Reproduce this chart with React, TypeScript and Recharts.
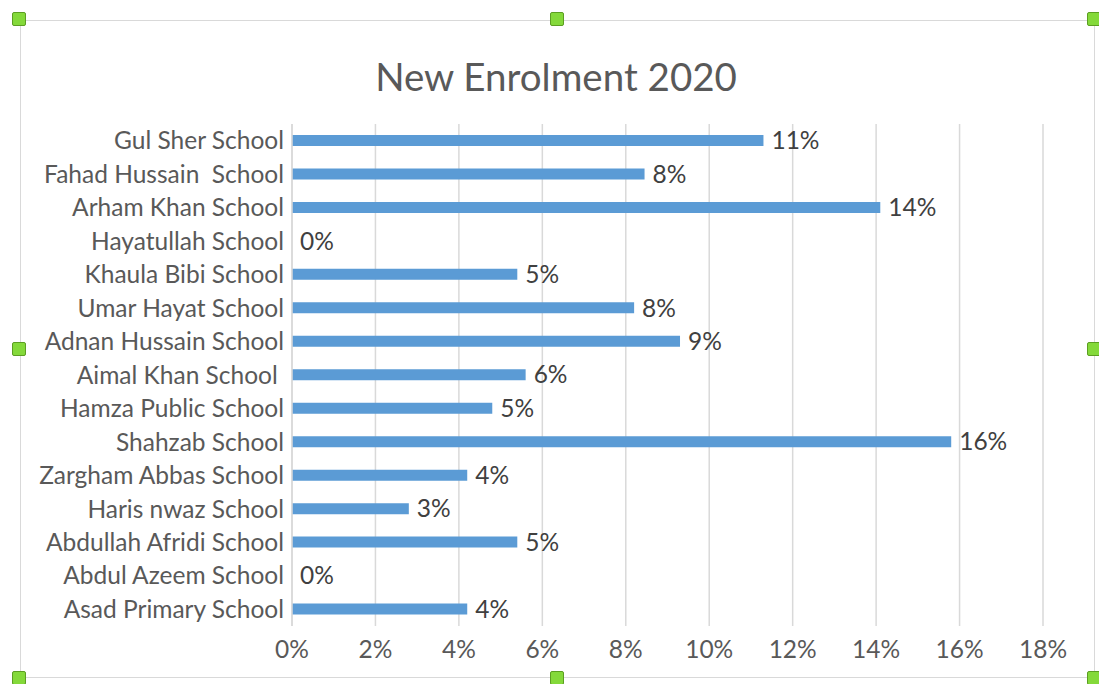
import React from 'react';
import { BarChart, Bar, XAxis, YAxis, CartesianGrid, LabelList } from 'recharts';

// Schools top to bottom, as in the reference
const schools = [
  'Gul Sher School',
  'Fahad Hussain  School',
  'Arham Khan School',
  'Hayatullah School',
  'Khaula Bibi School',
  'Umar Hayat School',
  'Adnan Hussain School',
  'Aimal Khan School ',
  'Hamza Public School',
  'Shahzab School',
  'Zargham Abbas School',
  'Haris nwaz School',
  'Abdullah Afridi School',
  'Abdul Azeem School',
  'Asad Primary School',
];

const enrolmentShare = [
  0.113, 0.0845, 0.141, 0, 0.054, 0.082, 0.093, 0.056, 0.048, 0.158, 0.042, 0.028, 0.054, 0, 0.042,
];

const xTicks = [0, 0.02, 0.04, 0.06, 0.08, 0.1, 0.12, 0.14, 0.16, 0.18];

const data = schools.map((name, i) => ({ name, value: enrolmentShare[i] }));

const FONT = 'Lato, "Open Sans", sans-serif';
const TEXT = '#595959';
const GRID = '#d9d9d9';
const BLUE = '#5b9bd5';
const FS = 24.5;

const pct = (v: number) => `${Math.round(v * 100)}%`;

function Handle({ x, y }: { x: number; y: number }) {
  return (
    <div
      style={{
        position: 'absolute',
        left: x - 7,
        top: y - 7,
        width: 12,
        height: 12,
        background: '#84d93a',
        border: '1px solid #5c9e22',
        borderRadius: 2,
      }}
    />
  );
}

export default function App() {
  const handles = [
    [19, 19], [557, 19], [1094, 19],
    [19, 349], [1094, 349],
    [19, 678], [557, 678], [1094, 678],
  ];

  return (
    <div style={{ position: 'absolute', left: 0, top: 0, width: 1099, height: 684, background: '#fff', fontFamily: FONT }}>
      {/* chart frame */}
      <div
        style={{
          position: 'absolute',
          left: 20,
          top: 20,
          width: 1075,
          height: 658,
          border: `1px solid ${GRID}`,
          boxSizing: 'border-box',
        }}
      />
      <div
        style={{
          position: 'absolute',
          left: 0,
          width: 1112,
          top: 53,
          lineHeight: '46px',
          textAlign: 'center',
          fontSize: 38.5,
          color: TEXT,
        }}
      >
        New Enrolment 2020
      </div>
      <div style={{ position: 'absolute', left: 0, top: 0 }}>
        <BarChart
          width={1099}
          height={684}
          data={data}
          layout="vertical"
          margin={{ top: 124, right: 56, bottom: 20, left: 0 }}
        >
          <CartesianGrid horizontal={false} stroke={GRID} strokeWidth={1.5} />
          <XAxis
            type="number"
            domain={[0, 0.18]}
            ticks={xTicks}
            tickFormatter={pct}
            axisLine={false}
            tickLine={false}
            height={38}
            tickMargin={9}
            tick={{ fill: TEXT, fontSize: FS, fontFamily: FONT }}
          />
          <YAxis
            type="category"
            dataKey="name"
            width={292}
            axisLine={{ stroke: GRID, strokeWidth: 1.5 }}
            tickLine={false}
            interval={0}
            tickFormatter={(v: string) => v.replace(/ /g, '\u00a0')}
            tick={{ fill: TEXT, fontSize: FS, fontFamily: FONT }}
          />
          <Bar dataKey="value" fill={BLUE} barSize={11} minPointSize={0.01} isAnimationActive={false}>
            <LabelList
              dataKey="value"
              position="right"
              offset={8}
              formatter={(v: number) => pct(v)}
              style={{ fill: '#404040', fontSize: FS, fontFamily: FONT }}
            />
          </Bar>
        </BarChart>
      </div>
      {handles.map(([x, y], i) => (
        <Handle key={i} x={x} y={y} />
      ))}
    </div>
  );
}
